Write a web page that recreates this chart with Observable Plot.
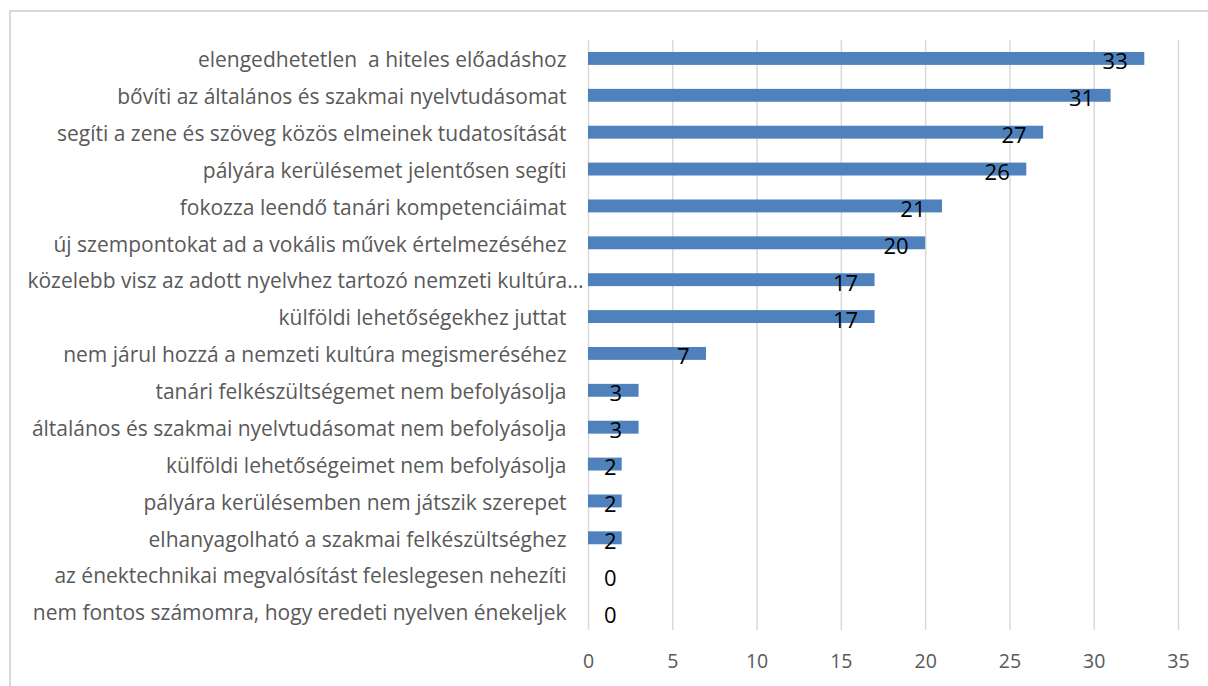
<!DOCTYPE html>
<html><head><meta charset="utf-8">
<script src="https://cdn.jsdelivr.net/npm/d3@7"></script>
<script src="https://cdn.jsdelivr.net/npm/@observablehq/plot@0.6"></script>
<style>
html,body{margin:0;padding:0;background:#fff;width:1208px;height:686px;overflow:hidden;position:relative}
#frame{position:absolute;left:9px;top:10px;width:1220px;height:700px;border:2px solid #d9d9d9;box-sizing:border-box}
#chart{position:absolute;left:0;top:0}
</style></head>
<body><div id="frame"></div><div id="chart"></div>
<script>
const categories = [
  "elengedhetetlen  a hiteles előadáshoz",
  "bővíti az általános és szakmai nyelvtudásomat",
  "segíti a zene és szöveg közös elmeinek tudatosítását",
  "pályára kerülésemet jelentősen segíti",
  "fokozza leendő tanári kompetenciáimat",
  "új szempontokat ad a vokális művek értelmezéséhez",
  "közelebb visz az adott nyelvhez tartozó nemzeti kultúra…",
  "külföldi lehetőségekhez juttat",
  "nem járul hozzá a nemzeti kultúra megismeréséhez",
  "tanári felkészültségemet nem befolyásolja",
  "általános és szakmai nyelvtudásomat nem befolyásolja",
  "külföldi lehetőségeimet nem befolyásolja",
  "pályára kerülésemben nem játszik szerepet",
  "elhanyagolható a szakmai felkészültséghez",
  "az énektechnikai megvalósítást feleslegesen nehezíti",
  "nem fontos számomra, hogy eredeti nyelven énekeljek"
];
const values = [33, 31, 27, 26, 21, 20, 17, 17, 7, 3, 3, 2, 2, 2, 0, 0];
const xTicks = [0, 5, 10, 15, 20, 25, 30, 35];
const truncatedLabel = categories[6];

const data = categories.map((c, i) => ({cat: c, v: values[i]}));

const chart = Plot.plot({
  width: 1208,
  height: 686,
  marginLeft: 588,
  marginRight: 30,
  marginTop: 40,
  marginBottom: 56,
  style: {fontFamily: "'Open Sans', sans-serif", background: "transparent"},
  x: {domain: [0, 35], ticks: xTicks, label: null},
  y: {domain: categories, label: null, paddingInner: 0.65, paddingOuter: 0.325, round: false},
  marks: [
    Plot.gridX(xTicks, {stroke: "#d9d9d9", strokeOpacity: 1, strokeWidth: 1.5}),
    Plot.barX(data, {y: "cat", x: "v", fill: "#4f81bd"}),
    Plot.text(data, {y: "cat", x: d => Math.max(d.v, 2.67), text: d => String(d.v), textAnchor: "end", dx: -17, dy: 3.5, fontSize: 22, fill: "#000"}),
    Plot.axisX(xTicks, {tickSize: 0, tickPadding: 24, fontSize: 19.5, color: "#595959", label: null}),
    Plot.axisY(categories.filter(c => c !== truncatedLabel), {tickSize: 0, tickPadding: 22, dy: 1.5, fontSize: 21, color: "#595959", label: null, textOverflow: null}),
    Plot.axisY([truncatedLabel], {tickSize: 0, tickPadding: 22, dx: 17, dy: 1.5, fontSize: 21, color: "#595959", label: null, textOverflow: null})
  ]
});
document.getElementById("chart").appendChild(chart);
</script>
</body></html>
